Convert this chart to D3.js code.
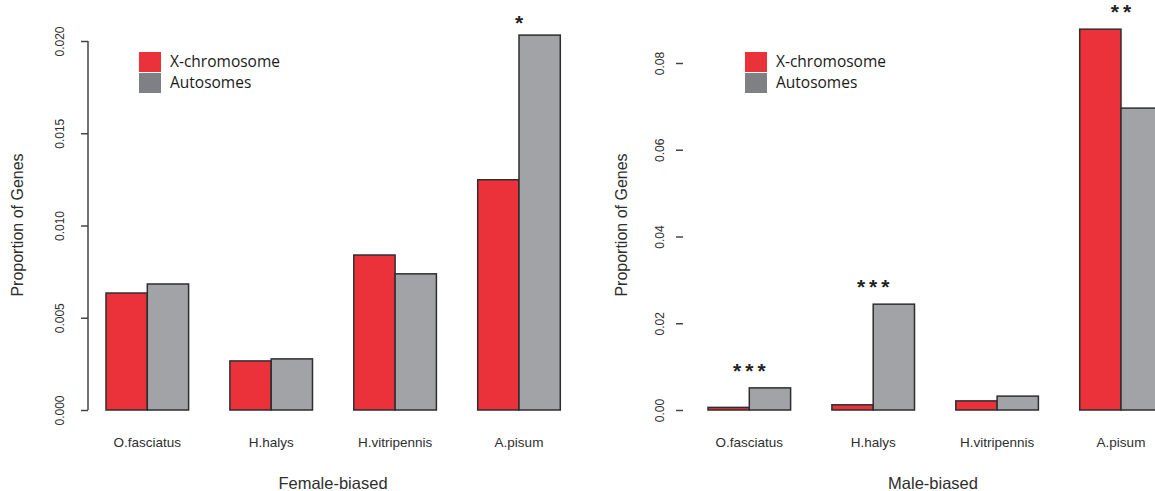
<!DOCTYPE html>
<html>
<head>
<meta charset="utf-8">
<script src="https://cdn.jsdelivr.net/npm/d3@7"></script>
<style>
  html, body { margin: 0; padding: 0; background: #fff; }
  svg { display: block; }
</style>
</head>
<body>
<svg id="chart" width="1155" height="491"></svg>
<script>
// Species on the x axis of both panels
const species = ["O.fasciatus", "H.halys", "H.vitripennis", "A.pisum"];
const seriesNames = ["X-chromosome", "Autosomes"];

// Female-biased proportions
const femaleX = [0.00634, 0.00266, 0.00840, 0.01248];
const femaleAuto = [0.00683, 0.00277, 0.00738, 0.02032];
const femaleStars = ["", "", "", "*"];
const femaleTicks = [0, 0.005, 0.010, 0.015, 0.020];

// Male-biased proportions
const maleX = [0.0006, 0.0012, 0.0021, 0.0878];
const maleAuto = [0.0051, 0.0244, 0.0032, 0.0696];
const maleStars = ["***", "***", "", "**"];
const maleTicks = [0, 0.02, 0.04, 0.06, 0.08];

const RED = "#eb323a";
const GREY = "#a1a3a6";
const LEGEND_GREY = "#7e8084";
const AXIS_FONT = "'Liberation Sans', Arial, sans-serif";

const svg = d3.select("#chart");

function drawPanel(cfg) {
  const g = svg.append("g");
  const y = d3.scaleLinear().domain(cfg.domain).range([410, cfg.topPx]);

  // groups of two bars with one bar-width gap between groups
  const x0 = d3.scaleBand().domain(species)
    .range([cfg.left, cfg.left + cfg.unit * 13])
    .paddingInner(1 / 3).paddingOuter(1 / 3);
  const x1 = d3.scaleBand().domain(seriesNames).range([0, x0.bandwidth()]).padding(0);

  const rows = species.map((s, i) => ({
    s, star: cfg.stars[i],
    vals: [{ k: seriesNames[0], v: cfg.xs[i], c: RED }, { k: seriesNames[1], v: cfg.autos[i], c: GREY }]
  }));

  const groups = g.selectAll("g.grp").data(rows).join("g")
    .attr("transform", d => `translate(${x0(d.s)},0)`);

  groups.selectAll("rect").data(d => d.vals).join("rect")
    .attr("x", d => x1(d.k))
    .attr("width", x1.bandwidth())
    .attr("y", d => y(d.v))
    .attr("height", d => y(0) - y(d.v))
    .attr("fill", d => d.c)
    .attr("stroke", "#2e2e2e")
    .attr("stroke-width", 1.5);

  // significance stars above the taller bar of each pair
  const spacing = 4;
  groups.append("text")
    .attr("x", x0.bandwidth() / 2)
    .attr("dx", spacing / 2)
    .attr("y", d => y(Math.max(d.vals[0].v, d.vals[1].v)) - cfg.starGap)
    .attr("text-anchor", "middle")
    .attr("font-family", AXIS_FONT)
    .attr("font-size", 21)
    .attr("font-weight", "bold")
    .attr("letter-spacing", spacing)
    .attr("fill", "#222")
    .text(d => d.star);

  // category labels
  groups.append("text")
    .attr("x", x0.bandwidth() / 2)
    .attr("y", 447)
    .attr("text-anchor", "middle")
    .attr("font-family", AXIS_FONT)
    .attr("font-size", 13.5)
    .attr("fill", "#2e2e2e")
    .text(d => d.s);

  // y axis
  const axis = d3.axisLeft(y).tickValues(cfg.ticks).tickSize(7)
    .tickFormat(d3.format(cfg.fmt));
  const ag = g.append("g").attr("transform", `translate(${cfg.axisX},0)`).call(axis);
  if (cfg.showLine) {
    ag.select(".domain")
      .attr("d", `M0,${y(cfg.ticks[0])}V${y(cfg.ticks[cfg.ticks.length - 1])}`)
      .attr("stroke", "#444").attr("stroke-width", 1.5);
  } else {
    ag.select(".domain").remove();
  }
  ag.selectAll(".tick line").attr("stroke", "#444").attr("stroke-width", 1.5);
  ag.selectAll(".tick text")
    .attr("font-family", AXIS_FONT)
    .attr("font-size", 12)
    .attr("fill", "#2e2e2e")
    .attr("text-anchor", "middle")
    .attr("dy", null)
    .attr("x", null)
    .attr("y", 4)
    .attr("transform", `translate(${-cfg.labelOff},0) rotate(-90)`);

  // axis titles
  g.append("text")
    .attr("transform", `translate(${cfg.yTitleX},225) rotate(-90)`)
    .attr("text-anchor", "middle")
    .attr("font-family", AXIS_FONT)
    .attr("font-size", 16)
    .attr("fill", "#2e2e2e")
    .text("Proportion of Genes");

  g.append("text")
    .attr("x", cfg.xTitleX)
    .attr("y", 489)
    .attr("text-anchor", "middle")
    .attr("font-family", AXIS_FONT)
    .attr("font-size", 16.5)
    .attr("fill", "#2e2e2e")
    .text(cfg.title);

  // legend
  const lg = g.append("g").attr("transform", `translate(${cfg.legendX},52)`);
  const items = lg.selectAll("g").data(seriesNames).join("g")
    .attr("transform", (d, i) => `translate(0,${i * 21})`);
  items.append("rect").attr("width", 22).attr("height", 20)
    .attr("fill", (d, i) => i === 0 ? RED : LEGEND_GREY);
  items.append("text")
    .attr("x", 31).attr("y", 15)
    .attr("font-family", "'Open Sans', 'Noto Sans', sans-serif")
    .attr("font-size", 15.5)
    .attr("fill", "#1a1a1a")
    .text(d => d);
}

drawPanel({
  domain: [0, 0.020], topPx: 41, left: 64.7, unit: 41.3,
  xs: femaleX, autos: femaleAuto, stars: femaleStars,
  ticks: femaleTicks, fmt: ".3f", axisX: 88, labelOff: 28, showLine: true,
  yTitleX: 23, xTitleX: 333, title: "Female-biased", legendX: 139, starGap: 5
});

drawPanel({
  domain: [0, 0.08], topPx: 63, left: 666.7, unit: 41.3,
  xs: maleX, autos: maleAuto, stars: maleStars,
  ticks: maleTicks, fmt: ".2f", axisX: 683, labelOff: 23, showLine: false,
  yTitleX: 627, xTitleX: 933, title: "Male-biased", legendX: 745, starGap: 10
});
</script>
</body>
</html>
